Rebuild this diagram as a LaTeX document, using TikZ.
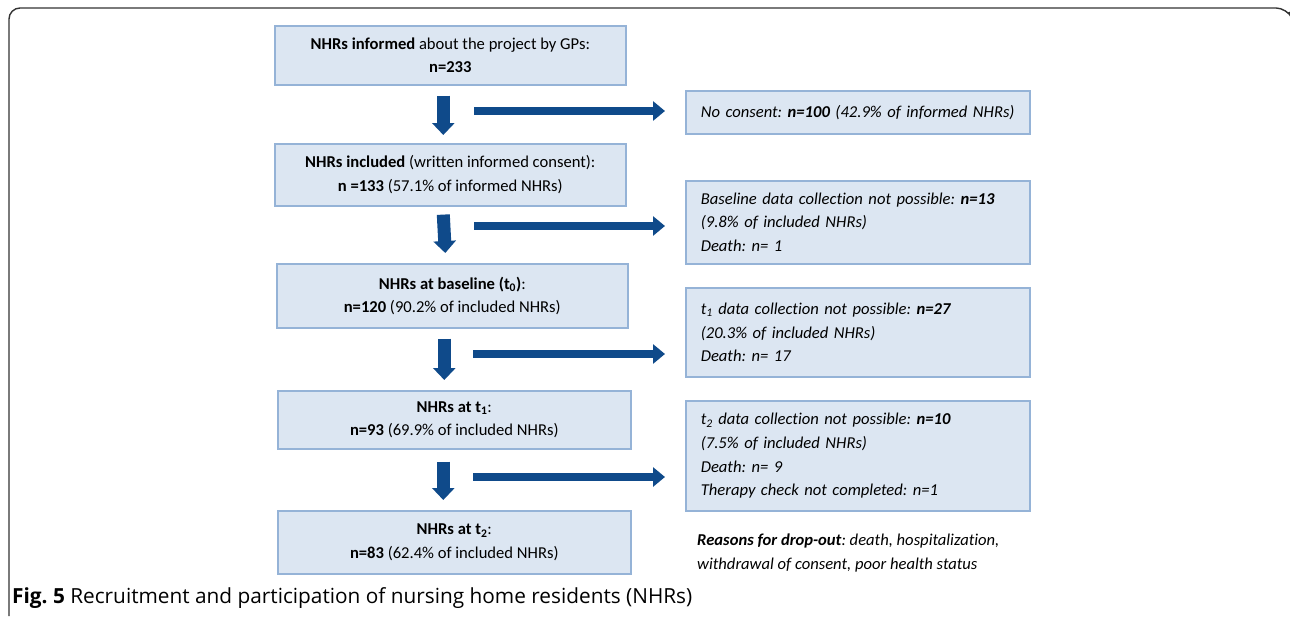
\documentclass[tikz,border=0pt]{standalone}
\usepackage{fontspec}
\setmainfont{Carlito}[Ligatures=NoCommon]
\newfontfamily\capfont{Open Sans}
\usetikzlibrary{arrows.meta,calc}
\frenchspacing
\definecolor{boxfill}{HTML}{DCE6F2}
\definecolor{boxline}{HTML}{95B3D7}
\definecolor{arrowblue}{HTML}{0F4A8A}
\definecolor{framegray}{HTML}{333333}
\tikzset{
  lbox/.style={draw=boxline, fill=boxfill, line width=1.6pt, inner sep=0pt, align=center,
    anchor=north west, font=\fontsize{16.6}{23.5}\selectfont},
  rbox/.style={draw=boxline, fill=boxfill, line width=1.6pt, inner xsep=15pt, inner ysep=0pt, align=left,
    anchor=north west, font=\fontsize{16.6}{23.8}\selectfont\itshape},
  downarr/.style={draw=arrowblue, line width=13pt, -{Triangle[width=22pt,length=12pt]}},
  sidearr/.style={draw=arrowblue, line width=8pt, -{Triangle[width=19pt,length=12pt]}},
}
\begin{document}
\begin{tikzpicture}[x=1pt,y=-1pt]
\useasboundingbox (0,0) rectangle (1290,618);
% frame
\draw[framegray, line width=1.4pt, rounded corners=11pt] (1289,12) -- (1287,8) -- (9,8) -- (9,616);
% left boxes
\node[lbox, minimum width=351pt, minimum height=59pt] (b1) at (274,25)
  {\textbf{NHRs informed} about the project by GPs:\\ \textbf{n=233}};
\node[lbox, minimum width=351pt, minimum height=62pt] (b2) at (274,143)
  {\textbf{NHRs included} (written informed consent):\\ \textbf{n =133} (57.1\% of informed NHRs)};
\node[lbox, minimum width=351pt, minimum height=64pt] (b3) at (276,263)
  {\textbf{NHRs at baseline (t\textsubscript{0})}:\\ \textbf{n=120} (90.2\% of included NHRs)};
\node[lbox, minimum width=353pt, minimum height=58pt] (b4) at (277,390)
  {\textbf{NHRs at t\textsubscript{1}}:\\ \textbf{n=93} (69.9\% of included NHRs)};
\node[lbox, minimum width=353pt, minimum height=63pt] (b5) at (277,510)
  {\textbf{NHRs at t\textsubscript{2}}:\\ \textbf{n=83} (62.4\% of included NHRs)};
% right boxes
\node[rbox, text width=314pt, minimum height=43pt] (r1) at (685,90)
  {No consent: \textbf{n=100} (42.9\% of informed NHRs)};
\node[rbox, text width=314pt, minimum height=83pt] (r2) at (685,180)
  {Baseline data collection not possible: \textbf{n=13}\\ (9.8\% of included NHRs)\\ Death: n= 1};
\node[rbox, text width=314pt, minimum height=89pt] (r3) at (685,287)
  {t\textsubscript{1} data collection not possible: \textbf{n=27}\\ (20.3\% of included NHRs)\\ Death: n= 17};
\node[rbox, text width=314pt, minimum height=110pt] (r4) at (685,400)
  {t\textsubscript{2} data collection not possible: \textbf{n=10}\\ (7.5\% of included NHRs)\\ Death: n= 9\\ Therapy check not completed: n=1};
\node[anchor=north west, inner sep=0pt, align=left, font=\fontsize{16.6}{24}\selectfont\itshape] (reasons) at (697,534)
  {\textbf{Reasons for drop-out}: death, hospitalization,\\ withdrawal of consent, poor health status};
% caption
\node[anchor=base west, inner sep=0pt, font=\capfont\fontsize{20.8}{23}\selectfont] (cap) at (12,603)
  {\textbf{Fig. 5} Recruitment and participation of nursing home residents (NHRs)};
% down arrows
\draw[downarr] ([xshift=-7pt,yshift=-10pt]b1.south) -- ([xshift=-7pt,yshift=8pt]b2.north);
\draw[downarr] ([xshift=-7pt,yshift=-8pt]b2.south) -- ([xshift=-7pt,yshift=10pt]b3.north);
\draw[downarr] ([xshift=-8pt,yshift=-10pt]b3.south) -- ([xshift=-10pt,yshift=10pt]b4.north);
\draw[downarr] ([xshift=-11pt,yshift=-12pt]b4.south) -- ([xshift=-11pt,yshift=10pt]b5.north);
% side arrows
\coordinate (h1s) at (474,111); \coordinate (h1e) at (665,111);
\coordinate (h2s) at (474,226); \coordinate (h2e) at (665,226);
\coordinate (h3s) at (473,354); \coordinate (h3e) at (665,354);
\coordinate (h4s) at (473,477); \coordinate (h4e) at (665,477);
\draw[sidearr] (h1s) -- (h1e);
\draw[sidearr] (h2s) -- (h2e);
\draw[sidearr] (h3s) -- (h3e);
\draw[sidearr] (h4s) -- (h4e);
\end{tikzpicture}
\end{document}
